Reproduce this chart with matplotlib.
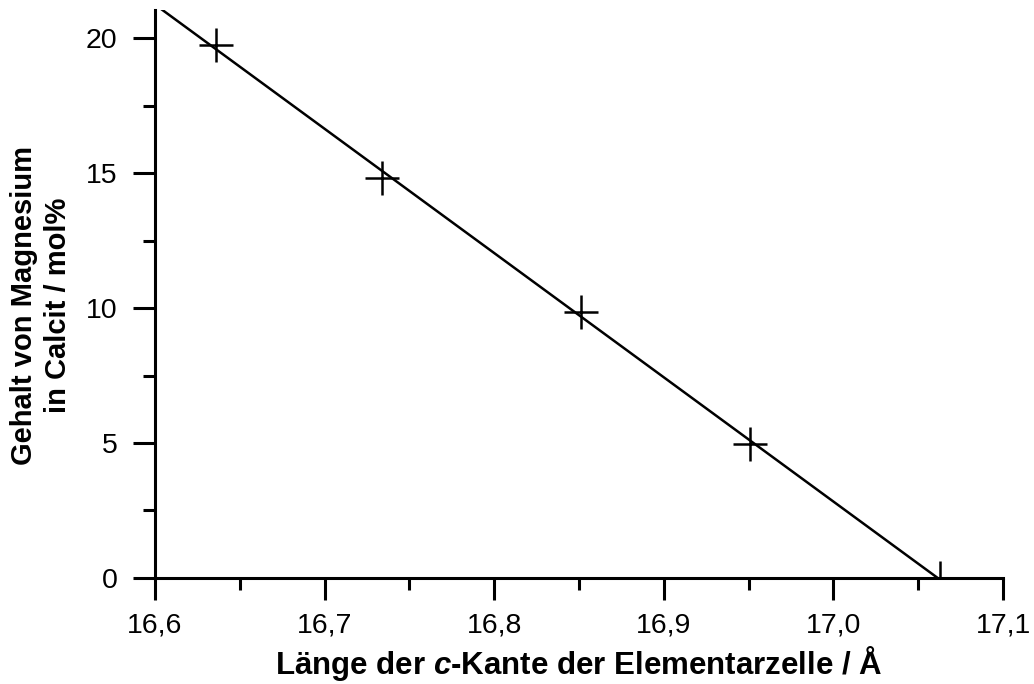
import numpy as np
import matplotlib
matplotlib.use('Agg')
import matplotlib.pyplot as plt
from matplotlib.ticker import MultipleLocator, FuncFormatter

plt.rcParams['font.family'] = ['Liberation Sans', 'DejaVu Sans']
plt.rcParams['mathtext.fontset'] = 'custom'
plt.rcParams['mathtext.rm'] = 'Liberation Sans'
plt.rcParams['mathtext.bf'] = 'Liberation Sans:bold'
plt.rcParams['mathtext.bfit'] = 'Liberation Sans:italic:bold'

# Messpunkte
c_kante = [16.636, 16.734, 16.851, 16.951, 17.063]
mg_gehalt = [19.74, 14.81, 9.85, 4.96, 0.0]

xlim = (16.6, 17.1)
ylim = (0, 21.04)

fig = plt.figure(figsize=(10.34, 6.84), dpi=100)
ax = fig.add_axes([0.1499, 0.155, 0.8202, 0.8304])

# lineare Regression
p = np.polyfit(c_kante, mg_gehalt, 1)
xf = np.array(xlim)
ax.plot(xf, np.polyval(p, xf), color='black', lw=1.8)
ax.plot(c_kante, mg_gehalt, linestyle='none', marker='+', color='black',
        markersize=24, markeredgewidth=1.8)

ax.set_xlim(*xlim)
ax.set_ylim(*ylim)
ax.spines['top'].set_visible(False)
ax.spines['right'].set_visible(False)
for s in ['left', 'bottom']:
    ax.spines[s].set_linewidth(2.2)

ax.xaxis.set_major_locator(MultipleLocator(0.1))
ax.xaxis.set_minor_locator(MultipleLocator(0.05))
ax.yaxis.set_major_locator(MultipleLocator(5))
ax.yaxis.set_minor_locator(MultipleLocator(2.5))
ax.xaxis.set_major_formatter(FuncFormatter(lambda v, pos: f'{v:.1f}'.replace('.', ',')))
ax.yaxis.set_major_formatter(FuncFormatter(lambda v, pos: f'{v:.0f}'))

ax.tick_params(which='major', direction='out', length=16, width=2.2, labelsize=20.5)
ax.tick_params(which='minor', direction='out', length=8.5, width=2.2)
ax.tick_params(axis='y', which='major', pad=11)
ax.tick_params(axis='x', which='major', pad=9)

ax.set_xlabel(r'Länge der $\mathbfit{c}$-Kante der Elementarzelle / Å',
              fontsize=22.5, fontweight='bold', labelpad=4)
ax.set_ylabel('Gehalt von Magnesium\nin Calcit / mol%', fontsize=21,
              fontweight='bold', linespacing=1.25, labelpad=9)
ax.yaxis.set_label_coords(-0.098, 0.48)

plt.savefig('out.png', dpi=100)
